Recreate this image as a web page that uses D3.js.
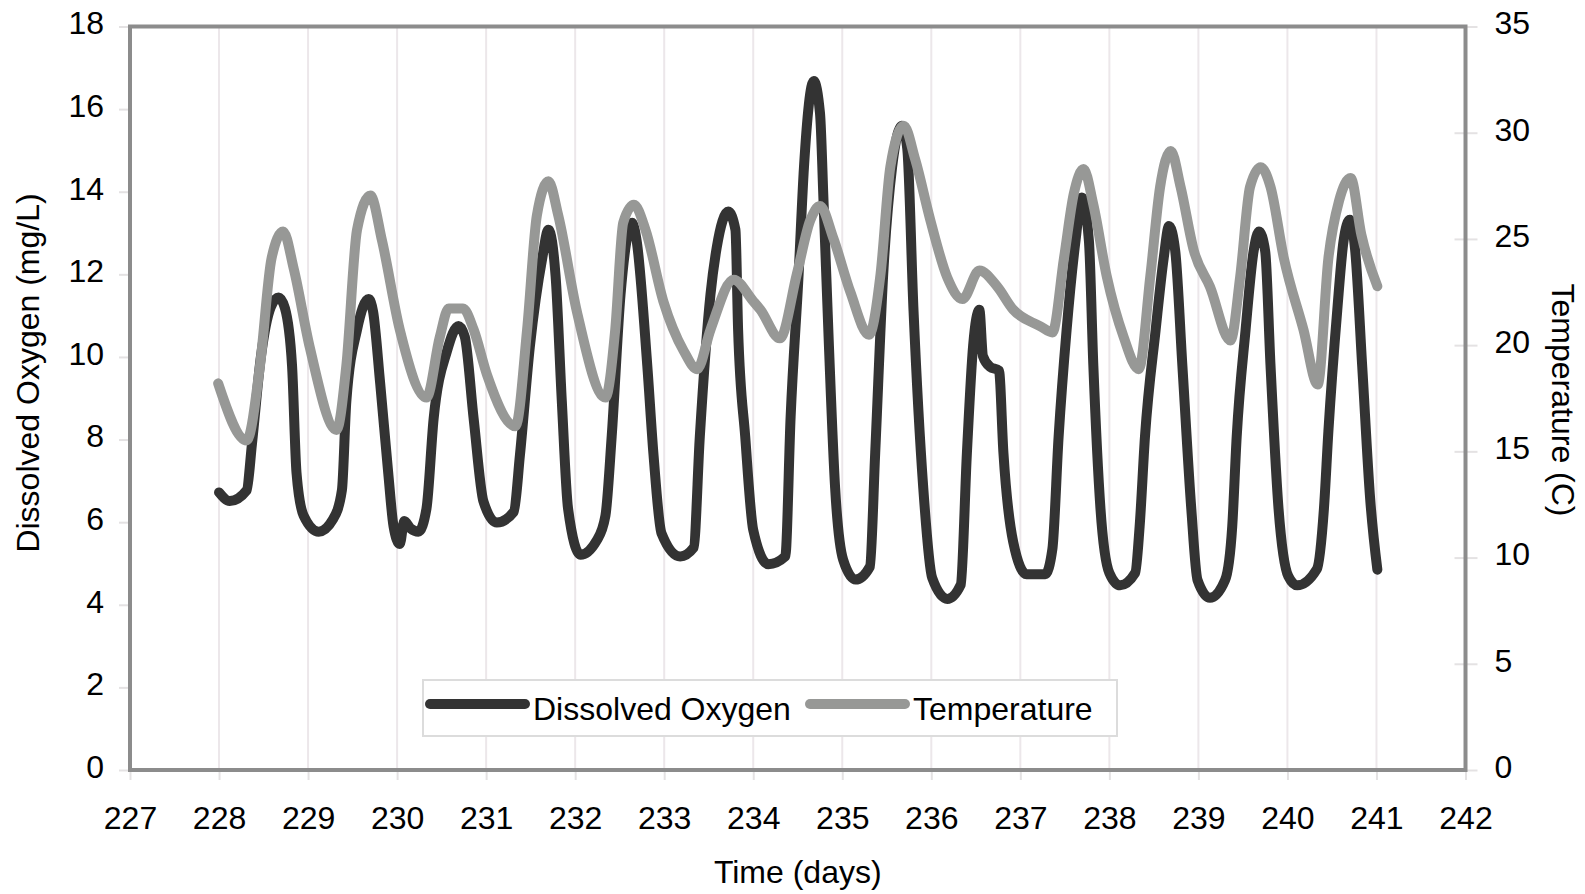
<!DOCTYPE html>
<html>
<head>
<meta charset="utf-8">
<script src="https://cdn.jsdelivr.net/npm/d3@7"></script>
<style>
  body { margin: 0; background: #fff; }
  svg text { font-family: "Liberation Sans", Arial, sans-serif; font-size: 32px; fill: #000; }
</style>
</head>
<body>
<div id="chart"></div>
<script>
const dimensions = ({
  width: 1585,
  height: 894,
  left: 130,
  right: 1465.5,
  top: 26.5,
  bottom: 770
})

// time (days) / dissolved oxygen (mg/L)
const doDays = [228.00, 228.12, 228.31, 228.37, 228.47, 228.58, 228.67, 228.74, 228.82, 228.87, 228.95,
  229.12, 229.28, 229.38, 229.43, 229.55, 229.68, 229.73, 229.81, 229.90, 229.96,
  230.03, 230.08, 230.15, 230.24, 230.33, 230.41, 230.56, 230.69, 230.76, 230.86, 230.97,
  231.12, 231.31, 231.38, 231.49, 231.63, 231.70, 231.78, 231.85, 231.92,
  232.06, 232.24, 232.34, 232.41, 232.51, 232.64, 232.69, 232.81, 232.88, 232.97,
  233.18, 233.33, 233.40, 233.52, 233.59, 233.72, 233.80, 233.83, 233.91,
  234.00, 234.17, 234.36, 234.42, 234.51, 234.57, 234.68, 234.75, 234.79, 234.85, 234.92,
  235.01, 235.15, 235.31, 235.37, 235.46, 235.56, 235.67, 235.73, 235.80, 235.91,
  236.01, 236.18, 236.33, 236.40, 236.47, 236.54, 236.58, 236.66, 236.76, 236.81, 236.92,
  237.07, 237.28, 237.36, 237.43, 237.52, 237.62, 237.69, 237.77, 237.82, 237.90,
  238.00, 238.12, 238.29, 238.34, 238.40, 238.52, 238.61, 238.67, 238.74, 238.82, 238.92, 238.99,
  239.13, 239.30, 239.38, 239.43, 239.53, 239.62, 239.68, 239.75, 239.81, 239.90,
  240.01, 240.11, 240.33, 240.41, 240.46, 240.56, 240.63, 240.70, 240.76, 240.84, 240.93, 241.01]
const doValues = [6.72, 6.51, 6.77, 7.9, 10.0, 11.2, 11.44, 11.18, 9.79, 7.2, 6.16,
  5.77, 6.07, 6.77, 8.93, 10.66, 11.4, 11.1, 9.36, 7.2, 5.9,
  5.47, 6.03, 5.85, 5.77, 6.33, 8.5, 10.14, 10.75, 10.49, 8.5, 6.5,
  5.99, 6.25, 7.63, 10.23, 12.39, 13.08, 11.96, 8.93, 6.33,
  5.21, 5.55, 6.16, 8.07, 11.52, 13.25, 12.82, 9.79, 7.63, 5.73,
  5.17, 5.38, 8.07, 11.52, 12.65, 13.52, 13.08, 10.66, 8.07,
  5.81, 4.98, 5.17, 8.55, 12.01, 14.6, 16.68, 15.9, 13.74, 10.28, 6.82,
  5.09, 4.61, 4.92, 7.68, 12.01, 14.6, 15.6, 15.04, 11.14, 6.82,
  4.65, 4.14, 4.48, 7.68, 10.28, 11.14, 10.02, 9.76, 9.67, 7.68, 5.52,
  4.74, 4.74, 5.35, 8.07, 10.66, 12.82, 13.86, 12.82, 9.79, 6.33,
  4.77, 4.47, 4.77, 5.9, 8.07, 10.66, 12.39, 13.17, 12.56, 9.79, 6.33, 4.6,
  4.17, 4.6, 5.9, 8.07, 10.66, 12.56, 13.04, 12.56, 9.79, 6.33,
  4.69, 4.47, 4.86, 6.33, 8.2, 11.14, 12.8, 13.32, 12.6, 9.77, 6.54, 4.85]

// time (days) / temperature (C)
const tempDays = [227.99, 228.31, 228.46, 228.59, 228.72, 228.84, 229.02,
  229.32, 229.43, 229.55, 229.70, 229.83, 230.03,
  230.33, 230.48, 230.58, 230.74, 230.86, 231.01,
  231.33, 231.46, 231.57, 231.70, 231.81, 232.02,
  232.34, 232.45, 232.54, 232.66, 232.79, 232.99, 233.22,
  233.37, 233.52, 233.78, 234.00, 234.08,
  234.30, 234.49, 234.64, 234.75, 234.90, 235.09,
  235.30, 235.43, 235.54, 235.69, 235.82, 235.99, 236.18,
  236.35, 236.54, 236.74, 236.92, 237.22, 237.36,
  237.49, 237.60, 237.71, 237.82, 237.97, 238.16,
  238.33, 238.46, 238.57, 238.69, 238.80, 238.95, 239.13,
  239.36, 239.47, 239.58, 239.70, 239.81, 239.96, 240.18,
  240.34, 240.46, 240.58, 240.71, 240.83, 241.01]
const tempValues = [18.2, 15.51, 19.04, 24.09, 25.35, 23.58, 19.88,
  16.01, 19.04, 25.43, 27.04, 24.93, 20.73,
  17.53, 20.39, 21.73, 21.73, 20.73, 18.6,
  16.18, 20.73, 26.11, 27.71, 26.11, 21.57,
  17.53, 20.73, 25.77, 26.61, 25.43, 22.07, 19.72,
  18.87, 20.73, 23.08, 22.07, 21.67,
  20.32, 23.35, 25.87, 26.55, 25.03, 22.51,
  20.49, 23.35, 28.4, 30.33, 28.73, 25.87, 23.18,
  22.17, 23.51, 22.76, 21.67, 20.9, 20.6,
  24.09, 27.12, 28.29, 26.61, 23.25, 20.39,
  18.87, 23.25, 27.45, 29.14, 27.45, 24.43, 22.75,
  20.22, 23.25, 27.45, 28.38, 27.45, 24.09, 20.73,
  18.15, 24.09, 26.8, 27.87, 25.2, 22.77]

const xTicks = d3.range(227, 243)
const doTicks = d3.range(0, 19, 2)
const tempTicks = d3.range(0, 36, 5)

const doColor = '#333333'
const tempColor = '#979896'

const x = d3.scaleLinear()
  .domain([227, 242])
  .range([dimensions.left, dimensions.right])

const yDO = d3.scaleLinear()
  .domain([0, 18])
  .range([dimensions.bottom, dimensions.top])

const yTemp = d3.scaleLinear()
  .domain([0, 35])
  .range([dimensions.bottom, dimensions.top])

const svg = d3.select("#chart")
  .append("svg")
    .attr("width", dimensions.width)
    .attr("height", dimensions.height)

// vertical gridlines only
svg.append("g")
  .selectAll("line")
  .data(xTicks.slice(1, -1))
  .enter().append("line")
    .attr("x1", d => x(d))
    .attr("x2", d => x(d))
    .attr("y1", dimensions.top)
    .attr("y2", dimensions.bottom)
    .attr("stroke", "#ece7ea")
    .attr("stroke-width", 2)

// axes
const xAxis = svg.append("g")
  .attr("transform", "translate(0," + dimensions.bottom + ")")
  .call(d3.axisBottom(x).tickValues(xTicks).tickSize(10).tickPadding(26).tickFormat(d3.format("d")))

const leftAxis = svg.append("g")
  .attr("transform", "translate(" + dimensions.left + ",0)")
  .call(d3.axisLeft(yDO).tickValues(doTicks).tickSize(11).tickPadding(15))

const rightAxis = svg.append("g")
  .attr("transform", "translate(" + dimensions.right + ",0)")
  .call(d3.axisRight(yTemp).tickValues(tempTicks).tickSize(12).tickPadding(17))

rightAxis.selectAll(".tick line").attr("x1", -11)

svg.selectAll(".domain").remove()
svg.selectAll(".tick line").attr("stroke", "#e4e2e3").attr("stroke-width", 2)
svg.selectAll(".tick text")
  .attr("font-family", null)
  .attr("font-size", null)
  .attr("fill", "#000")
leftAxis.selectAll(".tick text").attr("dy", "0.23em")
rightAxis.selectAll(".tick text").attr("dy", "0.23em")

// plot frame
svg.append("rect")
  .attr("x", dimensions.left)
  .attr("y", dimensions.top)
  .attr("width", dimensions.right - dimensions.left)
  .attr("height", dimensions.bottom - dimensions.top)
  .attr("fill", "none")
  .attr("stroke", "#8c8c8c")
  .attr("stroke-width", 4)

// series
const doData = doDays.map((d, i) => ({ t: d, v: doValues[i] }))
const tempData = tempDays.map((d, i) => ({ t: d, v: tempValues[i] }))

svg.append("path")
  .datum(doData)
  .attr("fill", "none")
  .attr("stroke", doColor)
  .attr("stroke-width", 10)
  .attr("stroke-linejoin", "round")
  .attr("stroke-linecap", "round")
  .attr("d", d3.line().curve(d3.curveMonotoneX).x(d => x(d.t)).y(d => yDO(d.v)))

svg.append("path")
  .datum(tempData)
  .attr("fill", "none")
  .attr("stroke", tempColor)
  .attr("stroke-width", 10)
  .attr("stroke-linejoin", "round")
  .attr("stroke-linecap", "round")
  .attr("d", d3.line().curve(d3.curveMonotoneX).x(d => x(d.t)).y(d => yTemp(d.v)))

// axis titles
svg.append("text")
  .attr("x", (dimensions.left + dimensions.right) / 2)
  .attr("y", 883)
  .attr("text-anchor", "middle")
  .text("Time (days)")

svg.append("text")
  .attr("transform", "translate(39,373) rotate(-90)")
  .attr("text-anchor", "middle")
  .text("Dissolved Oxygen (mg/L)")

svg.append("text")
  .attr("transform", "translate(1552,400) rotate(90)")
  .attr("text-anchor", "middle")
  .text("Temperature (C)")

//======================================================
//                     LEGEND
//======================================================
const legendItems = [
  { label: "Dissolved Oxygen", color: doColor, x: 430 },
  { label: "Temperature", color: tempColor, x: 810 }
]

const legend = svg.append("g")

legend.append("rect")
  .attr("x", 423)
  .attr("y", 680)
  .attr("width", 694)
  .attr("height", 56)
  .attr("fill", "#fff")
  .attr("stroke", "#dcdcdc")
  .attr("stroke-width", 2)

legend.selectAll("line")
  .data(legendItems)
  .enter().append("line")
    .attr("x1", d => d.x)
    .attr("x2", d => d.x + 95)
    .attr("y1", 704)
    .attr("y2", 704)
    .attr("stroke", d => d.color)
    .attr("stroke-width", 10)
    .attr("stroke-linecap", "round")

legend.selectAll("text")
  .data(legendItems)
  .enter().append("text")
    .attr("x", d => d.x + 103)
    .attr("y", 720)
    .text(d => d.label)
</script>
</body>
</html>
